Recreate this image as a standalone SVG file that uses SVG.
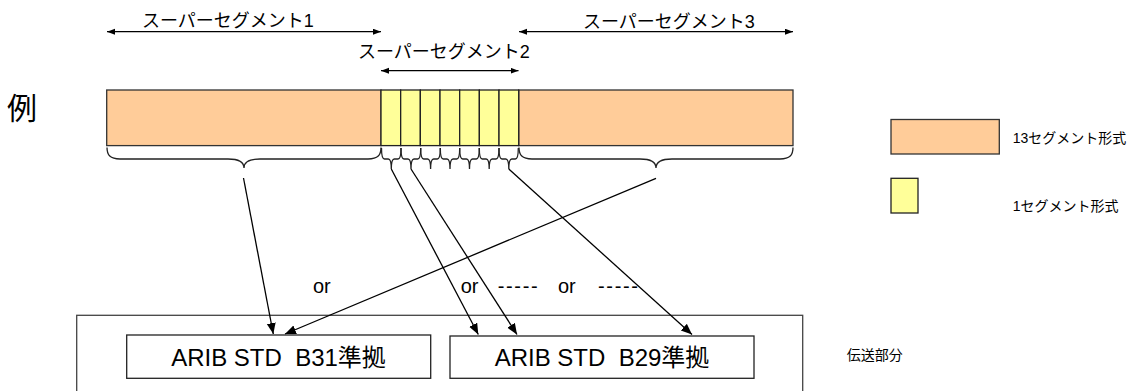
<svg xmlns="http://www.w3.org/2000/svg" width="1136" height="391" viewBox="0 0 1136 391">
<defs>
<style>
text{font-family:"Liberation Sans","Noto Sans CJK JP",sans-serif;fill:#000;white-space:pre}
.seg{font-size:18px}
.lg{font-size:14px}
.box{font-size:24px}
.or{font-size:20px}
.orange{fill:#FFCC99;stroke:#333;stroke-width:1.3}
.yellow{fill:#FFFF99;stroke:#222;stroke-width:1.3}
.brace{fill:none;stroke:#222;stroke-width:1.3}
.con{fill:none;stroke:#000;stroke-width:1.3}
.nbox{fill:#fff;stroke:#222;stroke-width:1.3}
</style>
<marker id="ah" markerUnits="userSpaceOnUse" markerWidth="12" markerHeight="10" refX="11" refY="4.5" orient="auto">
<path d="M0,0 L11,4.5 L0,9 z" fill="#000"/>
</marker>
<marker id="sh" markerUnits="userSpaceOnUse" markerWidth="10" markerHeight="8" refX="8" refY="3" orient="auto-start-reverse">
<path d="M0,0 L8,3 L0,6 z" fill="#000"/>
</marker>
</defs>
<rect width="1136" height="391" fill="#fff"/>

<g id="label-rei"><text x="7" y="119" style="font-size:30px">例</text></g>

<g id="super1">
<text class="seg" x="142" y="27">スーパーセグメント1</text>
<line class="con" x1="107" y1="31.7" x2="381" y2="31.7" marker-start="url(#sh)" marker-end="url(#sh)"/>
</g>
<g id="super2">
<text class="seg" x="358" y="58">スーパーセグメント2</text>
<line class="con" x1="381" y1="70.7" x2="518.5" y2="70.7" marker-start="url(#sh)" marker-end="url(#sh)"/>
</g>
<g id="super3">
<text class="seg" x="583" y="27.5">スーパーセグメント3</text>
<line class="con" x1="519" y1="31.7" x2="793" y2="31.7" marker-start="url(#sh)" marker-end="url(#sh)"/>
</g>

<g id="bar">
<rect class="orange" x="106.7" y="90" width="274.3" height="55.6"/>
<rect class="orange" x="518.7" y="90" width="274.3" height="55.6"/>
<rect class="yellow" x="381" y="90" width="19.67" height="55.6"/>
<rect class="yellow" x="400.67" y="90" width="19.67" height="55.6"/>
<rect class="yellow" x="420.34" y="90" width="19.67" height="55.6"/>
<rect class="yellow" x="440.01" y="90" width="19.67" height="55.6"/>
<rect class="yellow" x="459.68" y="90" width="19.67" height="55.6"/>
<rect class="yellow" x="479.35" y="90" width="19.67" height="55.6"/>
<rect class="yellow" x="499.02" y="90" width="19.67" height="55.6"/>
</g>

<g id="braces">
<path class="brace" d="M107,147.5 C107,155 110,159 120,159 H228 C238,159 244,162 244,168 C244,162 250,159 260,159 H368 C378,159 381,155 381,147.5"/>
<path class="brace" d="M519,147.5 C519,155 522,159 532,159 H640 C650,159 656,162 656,168 C656,162 662,159 672,159 H780 C790,159 793,155 793,147.5"/>
<path class="brace" d="M381.5,148 Q381.5,159 384.5,159 H388.3 Q391.3,159 391.3,169 Q391.3,159 394.3,159 H398 Q401,159 401,148"/>
<path class="brace" d="M401,148 Q401,159 404,159 H408 Q411,159 411,169 Q411,159 414,159 H417.7 Q420.7,159 420.7,148"/>
<path class="brace" d="M420.7,148 Q420.7,159 423.7,159 H427.6 Q430.6,159 430.6,169 Q430.6,159 433.6,159 H437.3 Q440.3,159 440.3,148"/>
<path class="brace" d="M440.3,148 Q440.3,159 443.3,159 H447 Q450,159 450,169 Q450,159 453,159 H456.7 Q459.7,159 459.7,148"/>
<path class="brace" d="M459.7,148 Q459.7,159 462.7,159 H466.5 Q469.5,159 469.5,169 Q469.5,159 472.5,159 H476.3 Q479.3,159 479.3,148"/>
<path class="brace" d="M479.3,148 Q479.3,159 482.3,159 H486.2 Q489.2,159 489.2,169 Q489.2,159 492.2,159 H496 Q499,159 499,148"/>
<path class="brace" d="M499,148 Q499,159 502,159 H505.8 Q508.8,159 508.8,169 Q508.8,159 511.8,159 H515.3 Q518.3,159 518.3,148"/>
</g>

<g id="legend-13">
<rect class="orange" x="891" y="119.5" width="108.3" height="34.5"/>
<text class="lg" x="1012.7" y="142.7">13セグメント形式</text>
</g>
<g id="legend-1">
<rect class="yellow" x="891" y="178.3" width="27" height="34.7"/>
<text class="lg" x="1012.7" y="211">1セグメント形式</text>
</g>

<g id="transmission">
<rect x="76.7" y="315.3" width="726" height="90" fill="none" stroke="#444" stroke-width="1.3"/>
<text class="lg" x="846.7" y="360">伝送部分</text>
</g>
<g id="b31">
<rect class="nbox" x="126.7" y="335" width="304" height="43.3"/>
<text class="box" x="278.5" y="365.7" text-anchor="middle">ARIB STD  B31準拠</text>
</g>
<g id="b29">
<rect class="nbox" x="450" y="336" width="304" height="42.3"/>
<text class="box" x="602" y="366" text-anchor="middle">ARIB STD  B29準拠</text>
</g>

<g id="labels">
<text class="or" x="313" y="292.7">or</text>
<text class="or" x="460.7" y="292.7">or</text>
<text class="or" x="558" y="292.7">or</text>
<text class="or" x="497.7" y="292.7" textLength="40" lengthAdjust="spacing">-----</text>
<text class="or" x="598" y="292.7" textLength="40" lengthAdjust="spacing">-----</text>
</g>

<g id="connectors">
<line class="con" x1="243.5" y1="178" x2="273.3" y2="334" marker-end="url(#ah)"/>
<line class="con" x1="656" y1="178.3" x2="285" y2="334" marker-end="url(#ah)"/>
<line class="con" x1="391.3" y1="169" x2="478.3" y2="334.5" marker-end="url(#ah)"/>
<line class="con" x1="411" y1="169" x2="517" y2="334.5" marker-end="url(#ah)"/>
<line class="con" x1="508.8" y1="169" x2="692" y2="334.5" marker-end="url(#ah)"/>
</g>
</svg>
